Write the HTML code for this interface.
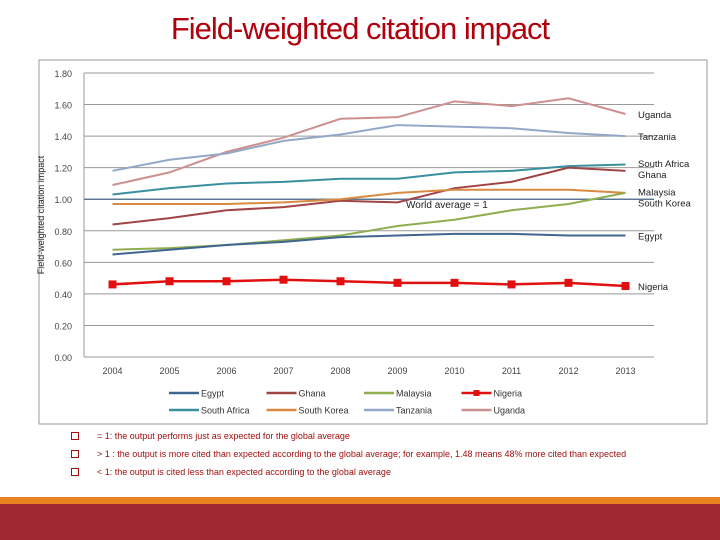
<!DOCTYPE html>
<html><head><meta charset="utf-8"><style>
body{margin:0;width:720px;height:540px;overflow:hidden;background:#fff;font-family:"Liberation Sans",sans-serif;position:relative}
#title{position:absolute;left:0;top:11px;width:720px;text-align:center;font-family:"Liberation Sans Narrow","Liberation Sans",sans-serif;font-size:31px;color:#b0000e;letter-spacing:-1px}
.note{position:absolute;left:97px;font-size:9px;color:#a01010;font-family:"Liberation Sans Narrow","Liberation Sans",sans-serif}
.bullet{position:absolute;left:71px;width:6px;height:6px;border:1.5px solid #a01010}
</style></head><body>
<div id="title">Field-weighted citation impact</div>
<svg id="chart" width="720" height="540" style="position:absolute;left:0;top:0"></svg>
<div class="bullet" style="top:432px"></div>
<div class="note" style="top:431px">= 1: the output performs just as expected for the global average</div>
<div class="bullet" style="top:450px"></div>
<div class="note" style="top:449px">&gt; 1 : the output is more cited than expected according to the global average; for example, 1.48 means 48% more cited than expected</div>
<div class="bullet" style="top:468px"></div>
<div class="note" style="top:467px">&lt; 1: the output is cited less than expected according to the global average</div>
<div style="position:absolute;left:0;top:497px;width:720px;height:7px;background:#e8821e"></div>
<div style="position:absolute;left:0;top:504px;width:720px;height:36px;background:#a02834"></div>
<script>
const years=["2004","2005","2006","2007","2008","2009","2010","2011","2012","2013"];
const yTicks=[0,0.2,0.4,0.6,0.8,1.0,1.2,1.4,1.6,1.8];
const seriesNames=["Egypt","Ghana","Malaysia","Nigeria","South Africa","South Korea","Tanzania","Uganda"];
const egypt=[0.65,0.68,0.71,0.73,0.76,0.77,0.78,0.78,0.77,0.77];
const ghana=[0.84,0.88,0.93,0.95,0.99,0.98,1.07,1.11,1.20,1.18];
const malaysia=[0.68,0.69,0.71,0.74,0.77,0.83,0.87,0.93,0.97,1.04];
const nigeria=[0.46,0.48,0.48,0.49,0.48,0.47,0.47,0.46,0.47,0.45];
const southAfrica=[1.03,1.07,1.10,1.11,1.13,1.13,1.17,1.18,1.21,1.22];
const southKorea=[0.97,0.97,0.97,0.98,1.00,1.04,1.06,1.06,1.06,1.04];
const tanzania=[1.18,1.25,1.29,1.37,1.41,1.47,1.46,1.45,1.42,1.40];
const uganda=[1.09,1.17,1.30,1.39,1.51,1.52,1.62,1.59,1.64,1.54];
const worldAverage=1.0;

const svg=document.getElementById('chart');
const NS='http://www.w3.org/2000/svg';
const L=84,R=654,T=73,B=357,ymax=1.8;
const x=i=>L+(R-L)*(i+0.5)/years.length;
const y=v=>B-(B-T)*v/ymax;
function mk(t,a,txt){const e=document.createElementNS(NS,t);for(const k in a)e.setAttribute(k,a[k]);if(txt!=null)e.textContent=txt;svg.appendChild(e);return e;}
let e;
e=mk('rect',{x:39,y:60,width:668,height:364,fill:'none',stroke:'#999'});


yTicks.forEach(v=>{
 e=mk('line',{x1:L,x2:R,y1:y(v),y2:y(v),stroke:'#999','stroke-width':1});
 
 
 e=mk('text',{x:72,y:y(v)+4,'font-size':9,fill:'#444','text-anchor':'end'},v.toFixed(2));
 
 
});
e=mk('line',{x1:L,x2:L,y1:T,y2:B,stroke:'#999'});


years.forEach((yr,i)=>{
 e=mk('text',{x:x(i),y:374,'font-size':9,fill:'#444','text-anchor':'middle'},yr);
 
 
});
e=mk('text',{x:0,y:0,'font-size':9,fill:'#222',transform:'translate(44,215) rotate(-90)','text-anchor':'middle','font-family':'Liberation Sans Narrow, Liberation Sans, sans-serif'},'Field-weighted citation impact');


e=mk('line',{x1:L,x2:R,y1:y(worldAverage),y2:y(worldAverage),stroke:'#4a6a8a','stroke-width':1.2});


e=mk('text',{x:406,y:y(worldAverage)+9,'font-size':10,fill:'#222'},'World average = 1');


const data=[egypt,ghana,malaysia,nigeria,southAfrica,southKorea,tanzania,uganda];
const colors=['#3f6590','#a04444','#8fae50','#e01010','#3a8f9f','#d98a40','#93a8c8','#cc9090'];
const order=[7,6,4,1,5,2,0,3];
order.forEach(k=>{
 const pts=data[k].map((v,i)=>x(i)+','+y(v)).join(' ');
 e=mk('polyline',{points:pts,fill:'none',stroke:colors[k],'stroke-width':k==3?2.5:2});
 
 
 if(k==3)data[k].forEach((v,i)=>{
  e=mk('rect',{x:x(i)-4,y:y(v)-4,width:8,height:8,fill:colors[k]});
  
  
 });
});
const endLabels=[["Uganda",uganda[9]],["Tanzania",tanzania[9]],["South Africa",southAfrica[9]+0.01],["Ghana",ghana[9]-0.02],["Malaysia",malaysia[9]+0.01],["South Korea",0.98],["Egypt",egypt[9]],["Nigeria",nigeria[9]]];
endLabels.forEach(([n,v])=>{
 e=mk('text',{x:638,y:y(v)+4,'font-size':9.5,fill:'#222'},n);
 
 
});
seriesNames.forEach((n,k)=>{
 const col=k%4,row=Math.floor(k/4);
 const lx=169+col*97.5,ly=393+row*17;
 e=mk('line',{x1:lx,x2:lx+30,y1:ly,y2:ly,stroke:colors[k],'stroke-width':2.5});
 
 
 if(k==3){e=mk('rect',{x:lx+12,y:ly-3,width:6,height:6,fill:colors[k]});}
 e=mk('text',{x:lx+32,y:ly+3.5,'font-size':9,fill:'#333'},n);
 
 
});
</script>
</body></html>
